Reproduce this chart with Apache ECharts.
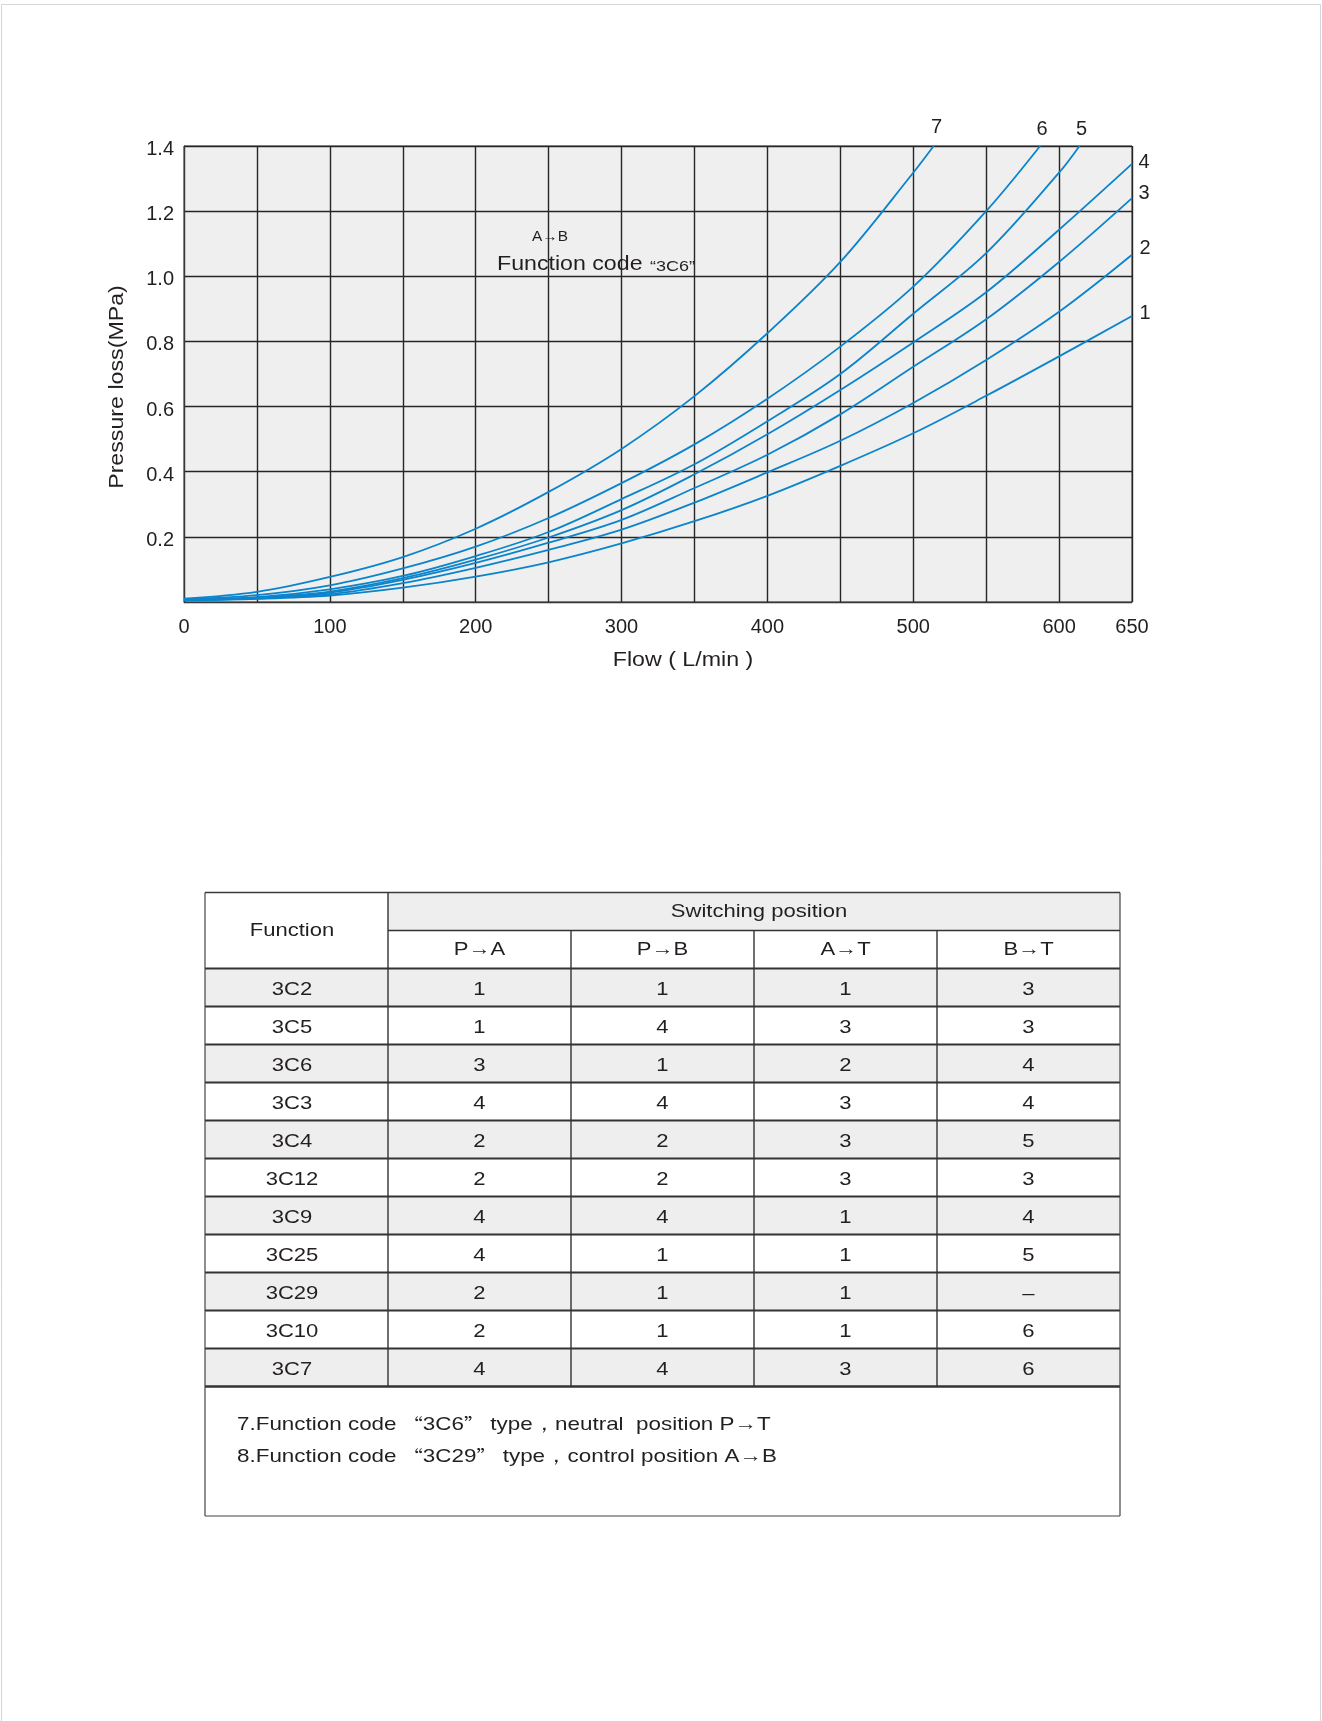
<!DOCTYPE html>
<html>
<head>
<meta charset="utf-8">
<title>Pressure loss – Function code 3C6</title>
<script src="https://cdn.jsdelivr.net/npm/echarts@6/dist/echarts.min.js"></script>
<style>
  html, body { margin: 0; padding: 0; background: #ffffff; }
  #chart { width: 1322px; height: 1721px; }
</style>
</head>
<body>
<div id="chart"></div>
<script>
// Pressure loss (MPa) against flow (L/min), one curve per characteristic number 1–7
const curve1 = [[0,0.006],[50,0.010],[100,0.020],[150,0.044],[200,0.078],[250,0.122],[300,0.180],[350,0.248],[400,0.326],[450,0.418],[500,0.518],[550,0.633],[600,0.754],[650,0.878]];
const curve2 = [[0,0.006],[50,0.011],[100,0.024],[150,0.058],[200,0.105],[250,0.160],[300,0.222],[350,0.305],[400,0.398],[450,0.495],[500,0.611],[550,0.743],[600,0.891],[650,1.066]];
const curve3 = [[0,0.006],[50,0.012],[100,0.029],[150,0.068],[200,0.120],[250,0.182],[300,0.252],[350,0.350],[400,0.452],[450,0.576],[500,0.722],[550,0.868],[600,1.044],[650,1.240]];
const curve4 = [[0,0.007],[50,0.013],[100,0.032],[150,0.073],[200,0.130],[250,0.198],[300,0.282],[350,0.392],[400,0.515],[450,0.651],[500,0.797],[550,0.951],[600,1.143],[650,1.345]];
const curve5 = [[0,0.008],[50,0.015],[100,0.039],[150,0.080],[200,0.141],[250,0.215],[300,0.316],[350,0.423],[400,0.555],[450,0.700],[500,0.885],[550,1.071],[600,1.318],[614,1.400]];
const curve6 = [[0,0.008],[50,0.021],[100,0.051],[150,0.103],[200,0.170],[250,0.258],[300,0.365],[350,0.484],[400,0.624],[450,0.784],[500,0.968],[550,1.200],[587,1.400]];
const curve7 = [[0,0.010],[50,0.031],[100,0.077],[150,0.138],[200,0.225],[250,0.338],[300,0.470],[350,0.632],[400,0.825],[450,1.044],[500,1.318],[514,1.400]];
const curveNames = ['1', '2', '3', '4', '5', '6', '7'];

// Axis ticks
const flowMax = 650;
const flowStep = 50;
const lossMax = 1.4;
const lossStep = 0.2;

// Switching position table
const functionCodes = ['3C2', '3C5', '3C6', '3C3', '3C4', '3C12', '3C9', '3C25', '3C29', '3C10', '3C7'];
const colPtoA = ['1', '1', '3', '4', '2', '2', '4', '4', '2', '2', '4'];
const colPtoB = ['1', '4', '1', '4', '2', '2', '4', '1', '1', '1', '4'];
const colAtoT = ['1', '3', '2', '3', '3', '3', '1', '1', '1', '1', '3'];
const colBtoT = ['3', '3', '4', '4', '5', '3', '4', '5', '–', '6', '6'];
const positionHeaders = ['P→A', 'P→B', 'A→T', 'B→T'];
const notes = [
  '7.Function code “3C6” type，neutral  position P→T',
  '8.Function code “3C29” type，control position A→B'
];

const FONT = '"Liberation Sans", Arial, Helvetica, sans-serif';
const CJK = '"Noto Sans CJK SC", sans-serif';
const INK = '#231f20';
const CURVE = '#0b84cc';
const GRID_LINE = '#262626';
const WIDE = 1.16;   // horizontal stretch for the wide-set lettering

const chart = echarts.init(document.getElementById('chart'), null, { renderer: 'canvas', width: 1322, height: 1721 });
const curves = [curve1, curve2, curve3, curve4, curve5, curve6, curve7];

chart.setOption({
  backgroundColor: '#ffffff',
  animation: false,
  grid: {
    left: 184, top: 146, width: 948, height: 456,
    show: true, backgroundColor: '#efefef', borderColor: '#3a3a3a', borderWidth: 1,
    outerBoundsMode: 'none'
  },
  xAxis: {
    type: 'value', min: 0, max: flowMax, interval: flowStep,
    axisLine: { show: true, lineStyle: { color: '#3a3a3a', width: 1 } },
    axisTick: { show: false },
    splitLine: { show: true, lineStyle: { color: GRID_LINE, width: 1.4 } },
    axisLabel: {
      show: true, margin: 15, fontSize: 20, color: INK, fontFamily: FONT,
      showMinLabel: true, showMaxLabel: true,
      formatter: v => (v % 100 === 0 || v === flowMax) ? String(v) : ''
    }
  },
  yAxis: {
    type: 'value', min: 0, max: lossMax, interval: lossStep,
    axisLine: { show: true, lineStyle: { color: '#3a3a3a', width: 1 } },
    axisTick: { show: false },
    splitLine: { show: true, lineStyle: { color: GRID_LINE, width: 1.4 } },
    axisLabel: {
      show: true, margin: 10, color: INK,
      showMinLabel: true, showMaxLabel: true,
      formatter: v => v === 0 ? '' : '{v|' + v.toFixed(1) + '}',
      rich: { v: { fontSize: 20, fontFamily: FONT, color: INK, padding: [7, 0, 0, 0] } }
    }
  },
  series: curves.map((d, i) => ({
    type: 'line', name: curveNames[i], data: d,
    smooth: 0.35, symbol: 'none', silent: true,
    lineStyle: { color: CURVE, width: 1.8 }
  }))
});

// ---- overlay: titles, curve numbers, table ----
const els = [];
const text = (x, y, str, size, opts) => {
  opts = opts || {};
  els.push({
    type: 'text', x, y, silent: true,
    rotation: opts.rotation || 0,
    scaleX: opts.scaleX || 1,
    style: Object.assign({
      text: str, fill: INK, font: size + 'px ' + FONT,
      align: 'center', verticalAlign: 'middle'
    }, opts.style || {})
  });
};
const line = (x1, y1, x2, y2, w, c) => els.push({
  type: 'line', silent: true,
  shape: { x1, y1, x2, y2 },
  style: { stroke: c || '#333333', lineWidth: w || 1.4 }
});
const box = (x, y, w, h, fill) => els.push({
  type: 'rect', silent: true, shape: { x, y, width: w, height: h }, style: { fill }
});

// page frame
els.push({ type: 'rect', silent: true, shape: { x: 1.5, y: 4.5, width: 1319, height: 1730 },
  style: { fill: null, stroke: '#d6d6d6', lineWidth: 1 } });

// axis titles
text(117, 387, 'Pressure loss(MPa)', 20, { rotation: Math.PI / 2, scaleX: WIDE });
text(683, 660, 'Flow ( L/min )', 20, { scaleX: WIDE });

// in-plot annotation
text(550, 237, 'A→B', 14, { scaleX: 1.1 });
text(497, 264, 'Function code', 20.5, { scaleX: 1.13, style: { align: 'left' } });
text(650, 267, '“3C6”', 15, { scaleX: 1.2, style: { align: 'left' } });

// curve numbers, anchored at each curve's last point
const labelShift = [[13, -3], [13, -6], [12, -5], [12, -1], [2, -17], [2, -17], [3, -19]];
curves.forEach((d, i) => {
  const p = chart.convertToPixel({ gridIndex: 0 }, d[d.length - 1]);
  text(p[0] + labelShift[i][0], p[1] + labelShift[i][1], curveNames[i], 20);
});

// table geometry
const T = { left: 205, top: 892.5, colW: 183, rowH: 38, notesBottom: 1516 };
const colX = c => T.left + c * T.colW;
const rowY = r => T.top + r * T.rowH;
const tRight = colX(5);
const lastRow = rowY(2 + functionCodes.length);

// shaded cells
box(colX(1), rowY(0), 4 * T.colW, T.rowH, '#eeeeee');
functionCodes.forEach((_, i) => {
  if (i % 2 === 0) box(colX(0), rowY(2 + i), 5 * T.colW, T.rowH, '#eeeeee');
});

// rules
line(colX(0), rowY(0), tRight, rowY(0), 1.4, '#3a3a3a');
line(colX(1), rowY(1), tRight, rowY(1), 1.6);
for (let r = 2; r <= 2 + functionCodes.length; r++) {
  line(colX(0), rowY(r), tRight, rowY(r), r === 2 + functionCodes.length ? 2.6 : 1.8);
}
line(colX(0), rowY(0), colX(0), T.notesBottom, 1.2, '#444444');
line(tRight, rowY(0), tRight, T.notesBottom, 1.2, '#444444');
line(colX(0), T.notesBottom, tRight, T.notesBottom, 1.2, '#444444');
line(colX(1), rowY(0), colX(1), lastRow, 1.4);
for (let c = 2; c <= 4; c++) line(colX(c), rowY(1), colX(c), lastRow, 1.4);

// header text
const cellFont = 19;
const cellOpts = { scaleX: WIDE };
text(colX(0) + T.colW / 2 - 4.5, rowY(1), 'Function', cellFont, cellOpts);
text(colX(1) + 2 * T.colW + 5, rowY(0) + T.rowH / 2, 'Switching position', cellFont, cellOpts);
positionHeaders.forEach((h, c) => text(colX(1 + c) + T.colW / 2, rowY(1) + T.rowH / 2, h, cellFont, cellOpts));

// body text
const bodyCols = [functionCodes, colPtoA, colPtoB, colAtoT, colBtoT];
bodyCols.forEach((col, c) => {
  const dx = c === 0 ? -4.5 : 0;
  col.forEach((v, i) => text(colX(c) + T.colW / 2 + dx, rowY(2 + i) + T.rowH / 2 + 2, v, cellFont, cellOpts));
});

// notes (curly quotes set in the CJK face, as in the printed catalogue)
notes.forEach((n, i) => text(237, 1425 + i * 32, n.replace(/[“”]/g, m => '{q|' + m + '}'), 19, {
  scaleX: 1.18,
  style: { align: 'left', rich: { q: { font: '17px ' + CJK, fill: INK } } }
}));

chart.setOption({ graphic: { elements: els } });
</script>
</body>
</html>
